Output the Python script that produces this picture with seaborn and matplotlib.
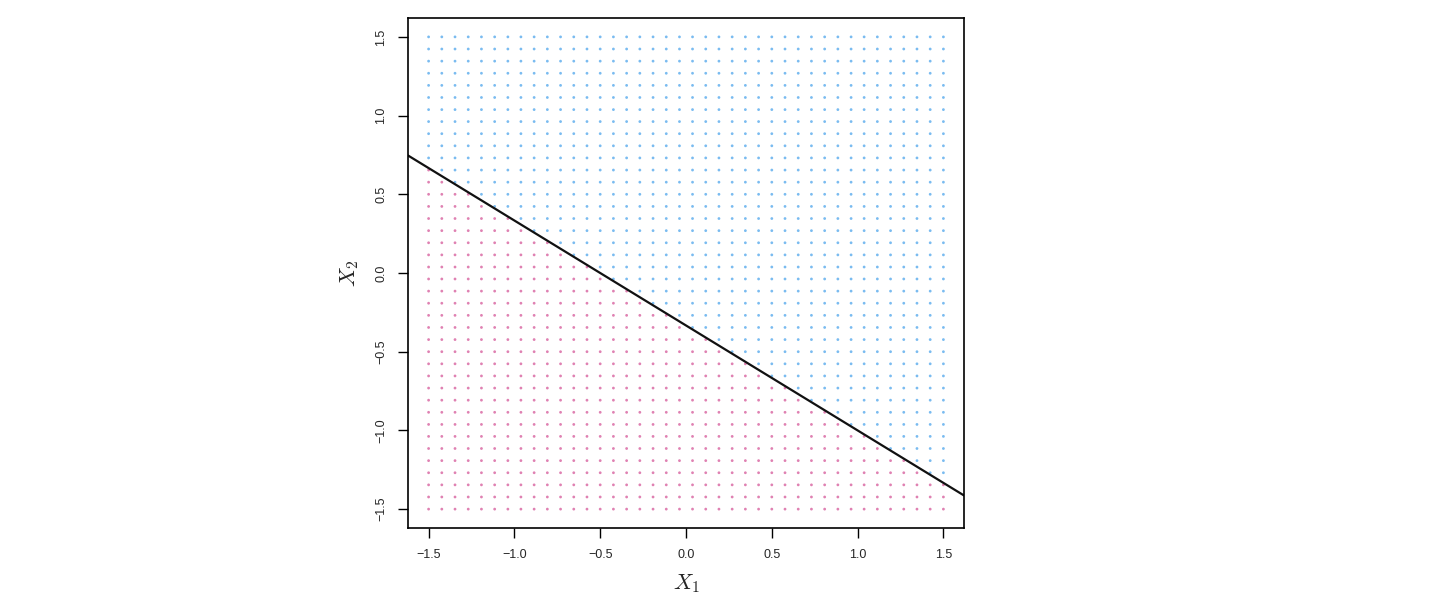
import matplotlib
matplotlib.use("Agg")
import matplotlib.pyplot as plt
import seaborn as sns
import numpy as np
import pandas as pd

# Grid coordinates (40 evenly spaced values from -1.5 to 1.5)
grid_vals = [-1.5, -1.423, -1.346, -1.269, -1.192, -1.115, -1.038, -0.962,
             -0.885, -0.808, -0.731, -0.654, -0.577, -0.5, -0.423, -0.346,
             -0.269, -0.192, -0.115, -0.038, 0.038, 0.115, 0.192, 0.269,
             0.346, 0.423, 0.5, 0.577, 0.654, 0.731, 0.808, 0.885,
             0.962, 1.038, 1.115, 1.192, 1.269, 1.346, 1.423, 1.5]
# Hyperplane 1 + 2*X1 + 3*X2 = 0
beta = [1, 2, 3]
tick_vals = [-1.5, -1.0, -0.5, 0.0, 0.5, 1.0, 1.5]
tick_labels = ["\u22121.5", "\u22121.0", "\u22120.5", "0.0", "0.5", "1.0", "1.5"]
class_names = ["above", "below"]
class_colors = {"above": "#63B0EE", "below": "#DA6BA5"}

X1, X2 = np.meshgrid(grid_vals, grid_vals)
df = pd.DataFrame({"X1": X1.ravel(), "X2": X2.ravel()})
df["cls"] = np.where(beta[0] + beta[1] * df["X1"] + beta[2] * df["X2"] > 0,
                     class_names[0], class_names[1])

sns.set_style("white")
plt.rcParams["font.family"] = ["Liberation Sans", "DejaVu Sans"]
plt.rcParams["mathtext.fontset"] = "cm"

fig = plt.figure(figsize=(14.52, 6.16), dpi=100)
ax = fig.add_axes([408 / 1452, 88 / 616, 556 / 1452, 510 / 616])

sns.scatterplot(data=df, x="X1", y="X2", hue="cls", palette=class_colors,
                s=4, linewidth=0, marker="o", alpha=0.85, legend=False, ax=ax)

ax.set_xlim(-1.62, 1.62)
ax.set_ylim(-1.62, 1.62)
# hyperplane line through the full x range
ax.axline((0, -beta[0] / beta[2]), slope=-beta[1] / beta[2], color="#111111", lw=1.6)

ax.set_xticks(tick_vals)
ax.set_xticklabels(tick_labels, fontsize=9)
ax.set_yticks(tick_vals)
ax.set_yticklabels(tick_labels, fontsize=9, rotation=90, va="center")
ax.tick_params(axis="both", direction="out", length=7, width=1, color="black",
               pad=8, bottom=True, left=True)
for sp in ax.spines.values():
    sp.set_color("black")
    sp.set_linewidth(1.2)
    sp.set_visible(True)

ax.set_xlabel(r"$X_1$", fontsize=16, labelpad=8)
ax.set_ylabel(r"$X_2$", fontsize=16, labelpad=10)

fig.savefig("out.png", dpi=100, facecolor="white")
